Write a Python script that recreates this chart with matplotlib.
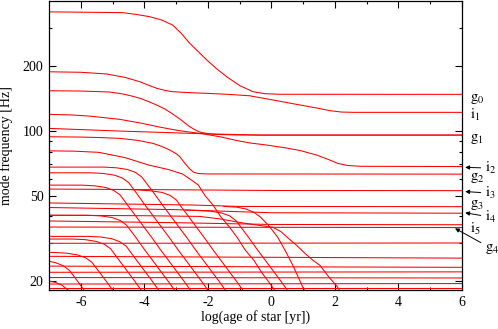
import numpy as np
import matplotlib
matplotlib.use("Agg")
import matplotlib.pyplot as plt
from matplotlib.ticker import FixedLocator, NullFormatter

plt.rcParams.update({
    "font.family": ["Liberation Serif", "DejaVu Serif"],
    "mathtext.fontset": "stix",
    "font.size": 10,
    "axes.unicode_minus": False,
})

# --- mode frequency tracks: (log age [yr], frequency [Hz]) ---
# upper modes
S1 = [(-7.0, 357), (-4.68, 354), (-4.24, 347), (-3.83, 339), (-3.45, 327), (-3.11, 310),
      (-2.85, 285), (-2.57, 255), (-2.31, 234), (-2.03, 213), (-1.72, 194), (-1.4, 178),
      (-0.99, 162), (-0.58, 152), (-0.21, 148.7), (0.27, 147.8), (6.0, 147.7)]
S2 = [(-7.0, 188), (-6.0, 187), (-5.18, 183.6), (-4.6, 177), (-4.14, 169), (-3.85, 162.5),
      (-3.61, 157.6), (-3.35, 154), (-3.11, 151.9), (-2.5, 150.2), (-2.03, 149.3),
      (-1.3, 147.5), (-0.68, 145.4), (0.03, 139.2), (0.74, 133.1), (1.45, 127.4),
      (1.85, 124), (2.2, 122.2), (2.6, 121.8), (6.0, 121.8)]
S3 = [(-7.0, 153.5), (-6.0, 153), (-5.09, 151.4), (-4.7, 148.5), (-4.39, 145), (-4.1, 141),
      (-3.83, 136), (-3.6, 131.5), (-3.35, 126.2), (-3.1, 119.5), (-2.88, 113.4),
      (-2.7, 108), (-2.57, 104.5), (-2.4, 101), (-2.25, 98.6), (-2.0, 97), (-1.78, 96.2),
      (-1.2, 95.7), (-0.36, 95.5), (6.0, 95.5)]
S4 = [(-7.0, 119.2), (-6.3, 118.5), (-5.72, 117), (-4.77, 113), (-4.1, 108.5), (-3.51, 104),
      (-3.0, 100.7), (-2.66, 99), (-2.25, 97.3), (-1.62, 93.8), (-1.1, 90.2), (-0.68, 87.8),
      (-0.14, 85.8), (0.4, 83.5), (0.9, 81.0), (1.43, 77.1), (1.8, 73.5), (2.1, 70.5),
      (2.4, 69.0), (2.8, 68.4), (6.0, 68.2)]
S5 = [(-7.0, 102.6), (-4.77, 99.7), (-2.25, 97), (-0.36, 95.5), (6.0, 95.5)]
S6 = [(-7.0, 93.8), (-6.0, 93.5), (-5.4, 93), (-4.77, 92.2), (-4.2, 90.2), (-3.73, 87.4),
      (-3.45, 84.6), (-3.19, 81.3), (-3.0, 78.3), (-2.88, 75.7), (-2.72, 70.5),
      (-2.57, 66.5), (-2.45, 64.2), (-2.3, 63.3), (-2.0, 63.0), (6.0, 62.9)]

# nearly flat tracks
HI3 = [(-7.0, 53.6), (-3.0, 53.2), (0.0, 52.8), (6.0, 52.7)]
HG3 = [(-7.0, 46.2), (-2.5, 45.2), (-1.0, 44.5), (6.0, 44.4)]
HI4 = [(-7.0, 44.0), (-3.0, 43.0), (0.0, 41.6), (6.0, 41.4)]
HI5 = [(-7.0, 38.1), (-3.0, 37.4), (0.0, 36.7), (6.0, 36.6)]
HG4 = [(-7.0, 35.7), (6.0, 35.5)]
H30 = [(-7.0, 30.0), (6.0, 30.1)]
H26 = [(-7.0, 26.1), (6.0, 25.6)]
H23 = [(-7.0, 23.5), (6.0, 23.2)]
H22 = [(-7.0, 22.0), (6.0, 22.1)]
H21 = [(-7.0, 20.8), (6.0, 20.7)]
H19 = [(-7.0, 19.4), (6.0, 19.5)]
H18 = [(-7.0, 18.5), (6.0, 18.5)]

# descending tracks (the fan in the lower left)
D1 = [(-7.0, 20.0), (-6.8, 19.75), (-6.6, 19.2), (-6.4, 18.2), (-6.3, 17.6)]
D2 = [(-7.0, 24.75), (-6.8, 24.4), (-6.55, 23.6), (-6.35, 22.4), (-6.1, 20.0), (-5.9, 18.2),
      (-5.8, 17.4)]
D3 = [(-7.0, 27.2), (-6.85, 27.2), (-6.45, 27.0), (-6.1, 26.5), (-5.85, 25.7), (-5.65, 24.5),
      (-5.41, 22.0), (-5.2, 20.0), (-5.0, 18.2), (-4.9, 17.4)]
D4 = [(-7.0, 31.4), (-6.26, 31.4), (-5.86, 31.2), (-5.51, 30.6), (-5.26, 29.7), (-5.06, 28.3),
      (-4.79, 25.0), (-4.51, 22.0), (-4.3, 20.0), (-4.1, 18.2), (-4.0, 17.4)]
D5 = [(-7.0, 32.3), (-5.77, 32.3), (-5.37, 32.1), (-5.02, 31.5), (-4.77, 30.5), (-4.57, 29.1),
      (-4.24, 25.0), (-3.96, 22.0), (-3.75, 20.0), (-3.55, 18.2), (-3.45, 17.4)]
D6 = [(-7.0, 40.5), (-5.76, 40.5), (-5.36, 40.2), (-5.01, 39.5), (-4.76, 38.3), (-4.56, 36.45),
      (-4.27, 32.0), (-3.99, 28.0), (-3.74, 25.0), (-3.46, 22.0), (-3.25, 20.0), (-3.05, 18.2),
      (-2.95, 17.4)]
D7 = [(-7.0, 55.9), (-5.96, 55.9), (-5.56, 55.5), (-5.21, 54.5), (-4.96, 52.8), (-4.76, 50.3),
      (-4.52, 45.0), (-4.26, 40.0), (-4.03, 36.0), (-3.77, 32.0), (-3.49, 28.0), (-3.24, 25.0),
      (-2.96, 22.0), (-2.75, 20.0), (-2.55, 18.2), (-2.45, 17.4)]
D8 = [(-7.0, 63.8), (-5.69, 63.8), (-5.29, 63.35), (-4.94, 62.2), (-4.69, 60.3), (-4.49, 57.4),
      (-4.19, 50.0), (-3.97, 45.0), (-3.71, 40.0), (-3.48, 36.0), (-3.22, 32.0), (-2.94, 28.0),
      (-2.69, 25.0), (-2.41, 22.0), (-2.2, 20.0), (-2.0, 18.2), (-1.9, 17.4)]
D9 = [(-7.0, 67.8), (-5.28, 67.8), (-4.88, 67.3), (-4.53, 66.1), (-4.28, 64.1), (-4.08, 61.0),
      (-3.89, 56.0), (-3.64, 50.0), (-3.42, 45.0), (-3.16, 40.0), (-2.93, 36.0), (-2.67, 32.0),
      (-2.39, 28.0), (-2.14, 25.0), (-1.86, 22.0), (-1.65, 20.0), (-1.45, 18.2), (-1.35, 17.4)]
D10 = [(-7.0, 80.7), (-6.2, 80.4), (-5.43, 79.4), (-4.6, 75.0), (-3.86, 69.3), (-3.23, 66.0),
       (-2.8, 63.0), (-2.55, 59.5), (-2.3, 56.0), (-2.09, 50.0), (-1.83, 45.0), (-1.6, 40.0),
       (-1.34, 36.0), (-1.08, 32.0), (-0.83, 28.0), (-0.55, 25.0), (-0.31, 22.0), (-0.1, 20.0),
       (0.1, 18.2), (0.2, 17.4)]
D11 = [(-4.6, 53.4), (-4.19, 53.1), (-3.79, 52.6), (-3.44, 51.7), (-3.19, 50.1), (-2.99, 47.7),
       (-2.87, 45.0), (-2.61, 40.0), (-2.38, 36.0), (-2.12, 32.0), (-1.84, 28.0), (-1.59, 25.0),
       (-1.31, 22.0), (-1.1, 20.0), (-0.9, 18.2), (-0.8, 17.4)]
D12 = [(-2.7, 42.8), (-2.32, 42.6), (-1.92, 42.3), (-1.57, 41.5), (-1.32, 40.3), (-1.12, 38.3),
       (-0.98, 36.0), (-0.72, 32.0), (-0.44, 28.0), (-0.19, 25.0), (0.09, 22.0), (0.3, 20.0),
       (0.5, 18.2), (0.6, 17.4)]
D13 = [(-1.5, 44.5), (-1.1, 44.2), (-0.8, 43.3), (-0.55, 41.8), (-0.35, 39.8), (-0.1, 36.5),
       (0.2, 32.0), (0.45, 27.5), (0.7, 23.3), (0.85, 20.8), (1.0, 18.6), (1.1, 17.4)]
D14 = [(-7.0, 40.5), (-4.0, 40.3), (-2.25, 40.0), (-1.6, 38.9), (-0.9, 37.3), (-0.3, 36.2),
       (0.05, 35.6), (0.3, 34.0), (0.55, 31.5), (0.8, 29.3), (1.05, 27.0), (1.31, 25.0),
       (1.53, 23.7), (1.8, 21.0), (2.07, 18.9), (2.2, 17.6)]

TRACKS = [S1, S2, S3, S4, S5, S6,
          HI3, HG3, HI4, HI5, HG4, H30, H26, H23, H22, H21, H19, H18,
          D1, D2, D3, D4, D5, D6, D7, D8, D9, D10, D11, D12, D13, D14]

# mode labels at the right edge: (name, subscript, x, f)
LABELS = [("g", "0", 6.25, 141.0), ("i", "1", 6.25, 118.0), ("g", "1", 6.25, 91.5),
          ("g", "2", 6.25, 60.3), ("g", "3", 6.25, 45.1), ("i", "5", 6.25, 34.9)]
# arrowed labels: (name, subscript, text x, text f, tip x, tip f)
ARROWS = [("i", "2", 6.72, 67.1, 6.1, 67.6), ("i", "3", 6.72, 51.3, 6.1, 52.2),
          ("i", "4", 6.72, 39.7, 6.1, 41.6), ("g", "4", 6.72, 28.3, 5.78, 35.2)]

X_MAJOR = [-6, -4, -2, 0, 2, 4, 6]
X_MINOR = [-5, -3, -1, 1, 3, 5]
Y_MAJOR = [20, 50, 100, 200]
Y_MINOR = [30, 40, 60, 70, 80, 90, 300]

fig = plt.figure(figsize=(4.98, 3.29), dpi=100)
ax = fig.add_axes([0.0984, 0.1185, 0.8293, 0.8785])

for tr in TRACKS:
    xs, fs = zip(*tr)
    ax.plot(xs, fs, color="#ff0000", lw=0.75, solid_joinstyle="round")

ax.set_yscale("log")
ax.set_xlim(-7, 6)
ax.set_ylim(18.2, 401)

ax.xaxis.set_major_locator(FixedLocator(X_MAJOR))
ax.xaxis.set_minor_locator(FixedLocator(X_MINOR))
ax.yaxis.set_major_locator(FixedLocator(Y_MAJOR))
ax.yaxis.set_minor_locator(FixedLocator(Y_MINOR))
ax.set_yticklabels([str(v) for v in Y_MAJOR])
ax.yaxis.set_minor_formatter(NullFormatter())
ax.tick_params(which="both", direction="in", top=True, right=True, labelsize=10)
ax.tick_params(which="major", length=5, width=0.8, pad=4)
ax.tick_params(which="minor", length=2.5, width=0.8)
for sp in ax.spines.values():
    sp.set_linewidth(0.9)

ax.set_xlabel("log(age of star [yr])", fontsize=10)
ax.set_ylabel("mode frequency [Hz]", fontsize=10)
ax.xaxis.set_label_coords(0.5, -0.07)
ax.yaxis.set_label_coords(-0.087, 0.5)

for name, sub, x, f in LABELS:
    ax.text(x, f, rf"$\mathrm{{{name}}}_{{{sub}}}$", ha="left", va="center",
            fontsize=10.5, clip_on=False)
for name, sub, tx, tf, hx, hf in ARROWS:
    ax.annotate(rf"$\mathrm{{{name}}}_{{{sub}}}$", xy=(hx, hf), xytext=(tx, tf),
                ha="left", va="center", fontsize=10.5, annotation_clip=False,
                arrowprops=dict(arrowstyle="-|>", color="black", lw=0.7,
                                mutation_scale=6, shrinkA=1, shrinkB=0))

fig.savefig("out.png", dpi=100)
